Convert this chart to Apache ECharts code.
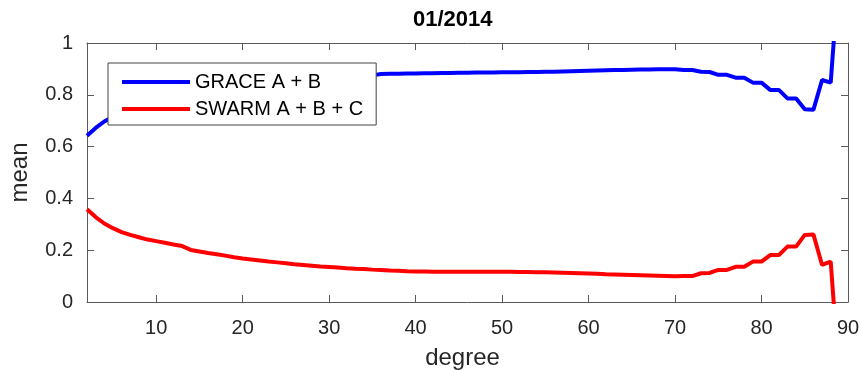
<!DOCTYPE html>
<html>
<head>
<meta charset="utf-8">
<script src="https://cdn.jsdelivr.net/npm/echarts@6/dist/echarts.min.js"></script>
<style>html,body{margin:0;padding:0;background:#fff}#c{width:861px;height:370px}</style>
</head>
<body>
<div id="c"></div>
<script>
var degrees = [2,3,4,5,6,7,8,9,10,11,12,13,14,15,16,17,18,19,20,21,22,23,24,25,26,27,28,29,30,31,32,33,34,35,36,37,38,39,40,41,42,43,44,45,46,47,48,49,50,51,52,53,54,55,56,57,58,59,60,61,62,63,64,65,66,67,68,69,70,71,72,73,74,75,76,77,78,79,80,81,82,83,84,85,86,87,88,89];
var grace = [0.642,0.672,0.697,0.715,0.730,0.741,0.750,0.759,0.765,0.771,0.778,0.784,0.799,0.805,0.811,0.816,0.821,0.827,0.832,0.836,0.840,0.844,0.847,0.850,0.854,0.857,0.860,0.863,0.865,0.867,0.870,0.872,0.873,0.875,0.880,0.881,0.881,0.882,0.882,0.883,0.883,0.884,0.884,0.885,0.885,0.886,0.886,0.886,0.887,0.887,0.887,0.888,0.888,0.889,0.889,0.890,0.891,0.892,0.893,0.894,0.895,0.896,0.896,0.897,0.898,0.898,0.899,0.899,0.899,0.896,0.896,0.889,0.888,0.877,0.877,0.866,0.866,0.847,0.847,0.819,0.819,0.786,0.786,0.744,0.742,0.857,0.847,1.3];
var swarm = [0.358,0.328,0.303,0.285,0.270,0.259,0.250,0.241,0.235,0.229,0.222,0.216,0.201,0.195,0.189,0.184,0.179,0.173,0.168,0.164,0.160,0.156,0.153,0.150,0.146,0.143,0.140,0.137,0.135,0.133,0.130,0.128,0.127,0.125,0.124,0.122,0.121,0.119,0.118,0.118,0.117,0.117,0.117,0.117,0.117,0.117,0.117,0.117,0.117,0.117,0.116,0.116,0.115,0.115,0.114,0.113,0.112,0.111,0.110,0.109,0.107,0.106,0.105,0.104,0.103,0.102,0.101,0.100,0.099,0.100,0.100,0.111,0.112,0.124,0.124,0.136,0.136,0.156,0.156,0.181,0.181,0.214,0.214,0.259,0.261,0.143,0.156,-0.3];
var xTicks = [10,20,30,40,50,60,70,80,90];
var seriesNames = ['GRACE A + B','SWARM A + B + C'];
var titleText = '01/2014';

function pairs(xs, ys){ return xs.map(function(x,i){ return [x, ys[i]]; }); }

var FONT = 'Liberation Sans';
var TXT = '#262626';
var AX = '#5a5a5a';

var chart = echarts.init(document.getElementById('c'), null, {renderer:'canvas'});
chart.setOption({
  animation: false,
  backgroundColor: '#fff',
  title: {
    text: titleText, left: 413, top: 9, padding: 0,
    textStyle: {fontFamily: FONT, fontSize: 22, fontWeight: 'bold', color: '#000'}
  },
  legend: {
    orient: 'vertical', left: 108, top: 63,
    padding: [9, 13, 6, 14], itemGap: 7,
    itemWidth: 68, itemHeight: 4, icon: 'rect',
    backgroundColor: '#fff', borderColor: '#444', borderWidth: 1, borderRadius: 0,
    textStyle: {fontFamily: FONT, fontSize: 20, color: '#000', lineHeight: 20},
    data: seriesNames
  },
  grid: {left: 87, right: 13, top: 43, bottom: 68, containLabel: false, outerBoundsMode: 'none'},
  xAxis: [{
    type: 'value', min: 2, max: 90,
    name: 'degree', nameLocation: 'middle', nameGap: 44,
    nameTextStyle: {fontFamily: FONT, fontSize: 24, color: TXT, padding: [0, 10, 0, 0]},
    axisLine: {show: true, onZero: false, lineStyle: {color: AX, width: 1}},
    axisTick: {show: true, inside: true, length: 7, customValues: xTicks, lineStyle: {color: AX}},
    axisLabel: {customValues: xTicks, fontFamily: FONT, fontSize: 20, color: TXT, margin: 16},
    splitLine: {show: false}
  },{
    type: 'value', min: 2, max: 90, position: 'top',
    axisLine: {show: true, onZero: false, lineStyle: {color: AX, width: 1}},
    axisTick: {show: true, inside: true, length: 7, customValues: xTicks, lineStyle: {color: AX}},
    axisLabel: {show: false},
    splitLine: {show: false}
  }],
  yAxis: [{
    type: 'value', min: 0, max: 1, interval: 0.2,
    name: 'mean', nameLocation: 'middle', nameGap: 55,
    nameTextStyle: {fontFamily: FONT, fontSize: 24, color: TXT},
    axisLine: {show: true, onZero: false, lineStyle: {color: AX, width: 1}},
    axisTick: {show: true, inside: true, length: 7, lineStyle: {color: AX}},
    axisLabel: {fontFamily: FONT, fontSize: 20, color: TXT, margin: 14,
      formatter: function(v){ return String(Math.round(v*10)/10); }},
    splitLine: {show: false}
  },{
    type: 'value', min: 0, max: 1, interval: 0.2, position: 'right',
    axisLine: {show: true, onZero: false, lineStyle: {color: AX, width: 1}},
    axisTick: {show: true, inside: true, length: 7, lineStyle: {color: AX}},
    axisLabel: {show: false},
    splitLine: {show: false}
  }],
  series: [{
    name: seriesNames[0], type: 'line', data: pairs(degrees, grace),
    xAxisIndex: 0, yAxisIndex: 0, symbol: 'none', clip: true,
    lineStyle: {color: '#0000ff', width: 4}, itemStyle: {color: '#0000ff'}
  },{
    name: seriesNames[1], type: 'line', data: pairs(degrees, swarm),
    xAxisIndex: 0, yAxisIndex: 0, symbol: 'none', clip: true,
    lineStyle: {color: '#ff0000', width: 4}, itemStyle: {color: '#ff0000'}
  }]
});
</script>
</body>
</html>
